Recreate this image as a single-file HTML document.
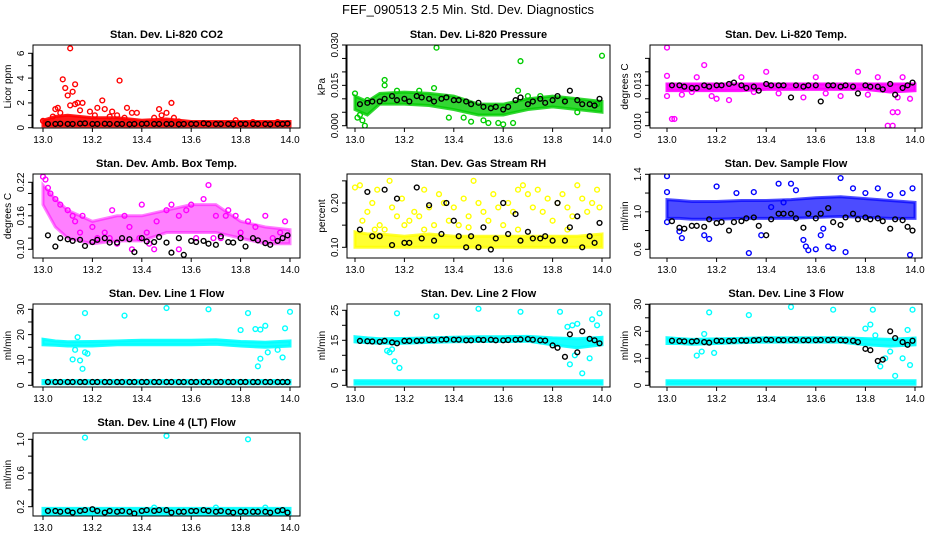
<!DOCTYPE html>
<html><head><meta charset="utf-8"><style>
body{margin:0;background:#fff;}
svg{display:block;font-family:"Liberation Sans",Arial,sans-serif;}
</style></head><body>
<svg id="chart" width="936" height="540" viewBox="0 0 936 540" xmlns="http://www.w3.org/2000/svg">
<text x="468" y="14" text-anchor="middle" font-size="13">FEF_090513  2.5 Min. Std. Dev. Diagnostics</text>
</svg>
<script>
// ---------- shared data ----------
const xTicks = [13.0,13.2,13.4,13.6,13.8,14.0];
const blackX = [13.02,13.05,13.07,13.10,13.12,13.15,13.17,13.20,13.22,13.25,13.27,13.30,13.32,13.35,13.37,13.40,13.42,13.45,13.47,13.50,13.52,13.55,13.57,13.60,13.62,13.65,13.67,13.70,13.72,13.75,13.77,13.80,13.82,13.85,13.87,13.90,13.92,13.95,13.97,13.99];
const bandX = [13.0,13.05,13.1,13.2,13.3,13.4,13.5,13.6,13.7,13.8,13.9,14.0];

// CO2
const co2Black = [0.3,0.3,0.32,0.3,0.3,0.33,0.35,0.3,0.3,0.32,0.3,0.3,0.3,0.28,0.3,0.3,0.32,0.3,0.3,0.3,0.3,0.28,0.3,0.3,0.3,0.35,0.3,0.3,0.3,0.3,0.28,0.3,0.3,0.3,0.3,0.3,0.28,0.3,0.3,0.33];
const co2BandLo = [0.15,0.15,0.15,0.15,0.15,0.15,0.15,0.15,0.15,0.15,0.15,0.15];
const co2BandHi = [0.6,0.9,1.0,0.8,0.8,0.6,0.7,0.5,0.5,0.5,0.5,0.5];
const co2SX = [13.11,13.08,13.09,13.13,13.12,13.10,13.31,13.05,13.06,13.14,13.16,13.13,13.24,13.22,13.25,13.28,13.34,13.36,13.38,13.47,13.52,13.50,13.48,13.19,13.21,13.30,13.04,13.07,13.11,13.15,13.27,13.33,13.53,13.78,13.45,13.55,13.00,13.85,13.95];
const co2SY = [6.4,3.9,3.2,3.5,2.9,2.6,3.8,1.5,1.6,2.0,2.0,1.9,2.2,1.6,1.5,1.3,1.6,1.2,1.2,1.5,2.0,1.2,1.0,1.3,1.0,1.0,0.9,1.2,1.8,1.4,0.9,0.8,0.8,0.6,0.8,0.5,0.55,0.45,0.45];

// Pressure
const prBlack = [0.008,0.0085,0.009,0.009,0.010,0.011,0.0095,0.010,0.009,0.011,0.0105,0.010,0.009,0.010,0.0105,0.0095,0.0095,0.009,0.008,0.0085,0.007,0.0065,0.007,0.006,0.007,0.0095,0.0105,0.008,0.009,0.010,0.0085,0.0095,0.011,0.009,0.013,0.0095,0.008,0.008,0.0075,0.010];
const prBandLo = [0.006,0.004,0.008,0.008,0.0075,0.006,0.004,0.004,0.006,0.007,0.006,0.005];
const prBandHi = [0.011,0.009,0.012,0.0125,0.012,0.011,0.008,0.008,0.010,0.011,0.010,0.009];
const prSX = [13.33,13.67,14.0,13.12,13.12,13.32,13.26,13.04,13.03,13.02,13.0,13.66,13.64,13.60,13.58,13.54,13.47,13.38,13.44,13.70,13.85,13.98,13.01,13.05,13.17,13.52,13.75,13.90];
const prSY = [0.029,0.024,0.026,0.017,0.015,0.014,0.013,0.0,0.002,0.004,0.012,0.013,0.001,0.0005,0.001,0.001,0.0015,0.003,0.003,0.011,0.0095,0.008,0.003,0.0095,0.013,0.002,0.011,0.005];

// Li-820 Temp
const tpBlack = [0.0130,0.0130,0.0129,0.0128,0.0128,0.0130,0.0129,0.0130,0.0130,0.0131,0.0132,0.0130,0.0128,0.0129,0.0126,0.0131,0.0130,0.0130,0.0130,0.0121,0.0130,0.0129,0.0130,0.0130,0.0118,0.0130,0.0130,0.0129,0.0130,0.0129,0.0124,0.0130,0.0129,0.0129,0.0127,0.0131,0.0123,0.0128,0.0130,0.0132];
const tpBandLo = [0.0126,0.0126,0.0126,0.0126,0.0126,0.0127,0.0127,0.0127,0.0127,0.0127,0.0125,0.0126];
const tpBandHi = [0.0131,0.0131,0.0131,0.0131,0.0131,0.0131,0.0131,0.0131,0.0131,0.0131,0.0131,0.0131];
const tpSX = [13.0,13.0,13.0,13.02,13.03,13.15,13.40,13.77,13.89,13.91,13.91,13.93,13.98,13.93,13.25,13.70,13.55,13.10,13.20,13.35,13.81,13.60,13.85,13.30,13.06,13.18,13.45,13.64,13.95,13.12];
const tpSY = [0.0158,0.0137,0.0122,0.0105,0.0105,0.0145,0.0140,0.0140,0.0100,0.0100,0.0110,0.0110,0.0120,0.0121,0.0119,0.0122,0.0121,0.0125,0.0120,0.0125,0.0123,0.0136,0.0136,0.0136,0.0123,0.0122,0.0124,0.0124,0.0136,0.0136];

// Amb Box Temp
const abBlack = [0.125,0.105,0.12,0.118,0.115,0.117,0.106,0.113,0.117,0.12,0.112,0.112,0.12,0.118,0.095,0.12,0.114,0.113,0.122,0.112,0.094,0.12,0.09,0.115,0.113,0.115,0.11,0.108,0.123,0.113,0.112,0.12,0.105,0.12,0.116,0.111,0.108,0.115,0.12,0.125];
const abBandLo = [0.18,0.14,0.12,0.11,0.115,0.115,0.13,0.13,0.13,0.12,0.11,0.11];
const abBandHi = [0.215,0.19,0.17,0.15,0.16,0.16,0.17,0.18,0.18,0.15,0.14,0.135];
const abSX = [13.0,13.01,13.02,13.03,13.05,13.07,13.1,13.13,13.16,13.2,13.22,13.25,13.28,13.3,13.33,13.36,13.39,13.4,13.43,13.46,13.5,13.52,13.55,13.58,13.6,13.62,13.65,13.67,13.7,13.72,13.75,13.78,13.8,13.83,13.86,13.9,13.93,13.96,13.98,13.15,13.35,13.45,13.55,13.69,13.74,13.12,13.27,13.42];
const abSY = [0.23,0.225,0.21,0.20,0.19,0.18,0.17,0.15,0.16,0.14,0.12,0.13,0.17,0.11,0.16,0.10,0.12,0.18,0.11,0.15,0.17,0.18,0.10,0.17,0.18,0.12,0.19,0.215,0.16,0.12,0.17,0.16,0.13,0.15,0.14,0.16,0.12,0.13,0.15,0.13,0.14,0.10,0.16,0.12,0.16,0.16,0.12,0.13];

// RH
const rhBlack = [0.14,0.225,0.125,0.125,0.23,0.105,0.21,0.11,0.11,0.235,0.12,0.195,0.115,0.13,0.20,0.16,0.125,0.10,0.125,0.10,0.145,0.095,0.12,0.20,0.13,0.175,0.115,0.135,0.12,0.12,0.125,0.115,0.20,0.115,0.145,0.17,0.10,0.125,0.11,0.155];
const rhBandLo = [0.10,0.10,0.10,0.10,0.10,0.10,0.10,0.10,0.10,0.10,0.10,0.10];
const rhBandHi = [0.135,0.13,0.13,0.125,0.13,0.125,0.125,0.125,0.125,0.125,0.125,0.13];
const rhSX = [13.0,13.02,13.03,13.05,13.07,13.09,13.1,13.12,13.14,13.15,13.17,13.19,13.2,13.22,13.24,13.26,13.28,13.3,13.32,13.34,13.36,13.38,13.4,13.42,13.44,13.46,13.48,13.5,13.52,13.54,13.56,13.58,13.6,13.62,13.64,13.66,13.68,13.7,13.72,13.74,13.76,13.78,13.8,13.82,13.84,13.86,13.88,13.9,13.92,13.94,13.96,13.98,13.99,13.08,13.28,13.46,13.66,13.86];
const rhSY = [0.235,0.24,0.16,0.18,0.20,0.23,0.15,0.14,0.25,0.19,0.17,0.21,0.15,0.16,0.18,0.17,0.23,0.19,0.15,0.22,0.20,0.16,0.19,0.15,0.21,0.17,0.25,0.20,0.18,0.16,0.22,0.19,0.15,0.20,0.18,0.23,0.24,0.22,0.19,0.23,0.18,0.21,0.16,0.20,0.22,0.19,0.17,0.24,0.21,0.18,0.20,0.23,0.19,0.14,0.14,0.145,0.14,0.14];

// Sample flow
const sfBlack = [0.90,0.83,0.82,0.85,0.85,0.84,0.92,0.88,0.89,0.80,0.89,0.90,0.93,0.94,0.85,0.75,0.92,0.98,0.98,0.98,0.93,0.83,0.98,0.93,0.98,1.04,0.89,0.86,0.94,0.98,0.92,0.94,0.92,0.93,0.90,0.82,0.92,0.91,0.84,0.80];
const sfBandLo = [0.93,0.93,0.92,0.92,0.93,0.93,0.93,0.94,0.95,0.94,0.93,0.93];
const sfBandHi = [1.13,1.12,1.11,1.11,1.12,1.12,1.13,1.15,1.16,1.14,1.12,1.10];
const sfSX = [13.0,13.0,13.0,13.05,13.06,13.15,13.17,13.2,13.33,13.35,13.38,13.42,13.45,13.5,13.52,13.55,13.57,13.56,13.6,13.62,13.65,13.67,13.7,13.72,13.75,13.8,13.85,13.9,13.95,13.98,13.99,13.28,13.47,13.63];
const sfSY = [1.38,1.21,0.89,0.79,0.72,0.75,0.71,1.27,0.56,1.21,0.75,1.05,1.30,1.30,1.23,0.70,0.59,0.63,0.60,0.75,0.63,0.61,1.36,0.57,1.25,1.20,1.25,1.18,1.20,0.54,1.25,1.20,1.10,0.82];

// Line 1
const l1Black = [1.3,1.3,1.3,1.3,1.3,1.3,1.3,1.3,1.3,1.3,1.3,1.3,1.3,1.3,1.3,1.3,1.3,1.3,1.3,1.3,1.3,1.3,1.3,1.3,1.3,1.3,1.3,1.3,1.3,1.3,1.3,1.3,1.3,1.3,1.3,1.3,1.3,1.3,1.3,1.3];
const l1UpLo = [16,15.8,15.5,15.5,16,16,16,16,16.2,15.5,15,15.5];
const l1UpHi = [18.2,17.5,17.2,17.3,17.5,17.8,17.8,17.8,18,17.3,17,17.5];
const l1LoLo = [0.6,0.6,0.6,0.6,0.6,0.6,0.6,0.6,0.6,0.6,0.6,0.6];
const l1LoHi = [1.9,1.9,1.9,1.9,1.9,1.9,1.9,1.9,1.9,1.9,1.9,1.9];
const l1SX = [13.17,13.33,13.5,13.67,13.83,14.0,13.12,13.15,13.14,13.16,13.17,13.18,13.8,13.86,13.88,13.9,13.87,13.88,13.91,13.95,13.98,13.97,13.13];
const l1SY = [28.5,27.5,30.5,30,28.5,29,10.2,9.8,19,6.5,13,12.5,21.8,22.2,22,23.5,7.5,10.5,13,14,22.5,11,14];

// Line 2
const l2Black = [14.8,14.7,14.6,14.5,14.8,14.3,14.0,14.8,14.8,14.8,14.9,15.1,15.0,15.2,15.3,15.2,15.2,15.0,15.0,15.2,15.1,15.2,15.0,15.0,15.1,15.2,15.3,15.4,15.2,15.0,14.9,13.3,12.5,9.5,17.0,11.0,18.0,15.5,15.0,14.0];
const l2UpLo = [14.5,14.2,14.0,14.0,14.3,14.5,14.6,14.6,14.7,13.5,12.5,13.5];
const l2UpHi = [16.2,15.8,15.5,15.6,15.8,16.0,16.2,16.2,16.3,15.8,15.5,16.0];
const l2LoLo = [0.4,0.4,0.4,0.4,0.4,0.4,0.4,0.4,0.4,0.4,0.4,0.4];
const l2LoHi = [1.5,1.5,1.5,1.5,1.5,1.5,1.5,1.5,1.5,1.5,1.5,1.5];
const l2SX = [13.17,13.33,13.5,13.67,13.83,13.99,13.13,13.14,13.15,13.16,13.18,13.86,13.88,13.9,13.92,13.95,13.96,13.98,13.87,13.89];
const l2SY = [24,23,25.5,24.5,24.5,24,11.5,11,12,8,5.8,19.5,20,20.5,4,9,22,20,7,10];

// Line 3
const l3Black = [16.5,16.4,16.3,16.2,16.4,16.0,15.8,16.5,16.4,16.4,16.5,16.6,16.5,16.7,16.8,16.9,16.8,16.8,16.7,16.8,16.8,16.7,16.7,16.7,16.8,16.8,16.9,16.7,16.6,16.5,16.0,13.5,13.0,9.0,9.5,20.0,17.5,16.0,15.0,16.5];
const l3UpLo = [15.5,15.5,15.2,15.5,15.8,16.0,16.0,16.0,16.0,15.0,14.5,15.0];
const l3UpHi = [17.6,17.3,17.0,17.2,17.4,17.6,17.6,17.6,17.6,17.3,17.0,17.5];
const l3LoLo = [0.4,0.4,0.4,0.4,0.4,0.4,0.4,0.4,0.4,0.4,0.4,0.4];
const l3LoHi = [1.7,1.7,1.7,1.7,1.7,1.7,1.7,1.7,1.7,1.7,1.7,1.7];
const l3SX = [13.17,13.33,13.5,13.67,13.83,13.99,13.12,13.14,13.15,13.19,13.8,13.84,13.86,13.88,13.9,13.92,13.95,13.97,13.98,13.82];
const l3SY = [27,26,29,28,28,28,11,12.5,19,12,21,18.5,7,10,12.5,3.5,10,20.5,7.5,22.5];

// Line 4
const l4Black = [0.15,0.15,0.14,0.15,0.13,0.15,0.16,0.17,0.15,0.13,0.15,0.14,0.15,0.14,0.12,0.15,0.16,0.15,0.16,0.16,0.13,0.14,0.14,0.15,0.15,0.16,0.15,0.14,0.15,0.14,0.13,0.14,0.14,0.14,0.14,0.14,0.13,0.15,0.16,0.13];
const l4BandLo = [0.11,0.11,0.11,0.11,0.11,0.11,0.11,0.11,0.11,0.11,0.11,0.11];
const l4BandHi = [0.18,0.18,0.18,0.18,0.18,0.18,0.18,0.18,0.18,0.18,0.18,0.18];
const l4SX = [13.17,13.5,13.83,13.45,13.7,13.9];
const l4SY = [1.02,1.04,1.0,0.19,0.19,0.19];

// ---------- drawing ----------
const NS = 'http://www.w3.org/2000/svg';
const svg = document.getElementById('chart');
const cols = [{l:33,r:300,x0:43,x1:290},{l:347,r:610,x0:355,x1:602},{l:650,r:922,x0:667,x1:915}];
const rows = [{t:45,b:128},{t:174,b:258},{t:304,b:387},{t:433,b:516}];

function mk(tag, attrs, parent){
  const e = document.createElementNS(NS, tag);
  for (const k in attrs) e.setAttribute(k, attrs[k]);
  (parent||svg).appendChild(e);
  return e;
}

function panel(p){
  const c = cols[p.col], r = rows[p.row];
  const g = mk('g', {});
  
  
  const xs = v => c.x0 + (v - 13) * (c.x1 - c.x0);
  const ys = v => p.py0 + (v - p.v0) * (p.py1 - p.py0) / (p.v1 - p.v0);
  const cx = (c.l + c.r) / 2;
  const t = mk('text', {x:cx, y:r.t-7, 'text-anchor':'middle', 'font-size':11, 'font-weight':'bold'}, g);
  t.textContent = p.title;
  
  
  const clipId = 'clip' + p.row + p.col;
  const cp = mk('clipPath', {id:clipId}, g);
  mk('rect', {x:c.l, y:r.t, width:c.r-c.l, height:r.b-r.t}, cp);
  const pg = mk('g', {'clip-path':'url(#'+clipId+')'}, g);
  (p.bands||[]).forEach(bd => {
    let pts = bandX.map((x,i) => xs(x)+','+ys(bd.hi[i]));
    pts = pts.concat(bandX.map((x,i) => xs(x)+','+ys(bd.lo[i])).reverse());
    const pl = mk('polygon', {points:pts.join(' '), fill:p.color, 'fill-opacity':bd.op||0.9, stroke:p.color, 'stroke-width':3, 'stroke-opacity':bd.op||0.9}, pg);
    
    
  });
  p.sx.forEach((x,i) => {
    const e = mk('circle', {cx:xs(x), cy:ys(p.sy[i]), r:2.4, fill:'none', stroke:p.color, 'stroke-width':1.4}, pg);
    
    
  });
  blackX.forEach((x,i) => {
    const e = mk('circle', {cx:xs(x), cy:ys(p.black[i]), r:2.4, fill:'none', stroke:'#000', 'stroke-width':1.4}, pg);
    
    
  });
  const bx = mk('rect', {x:c.l, y:r.t, width:c.r-c.l, height:r.b-r.t, fill:'none', stroke:'#000', 'stroke-width':1}, g);
  
  
  mk('line', {x1:xs(13), x2:xs(14), y1:r.b, y2:r.b, stroke:'#000'}, g);
  xTicks.forEach(v => {
    mk('line', {x1:xs(v), x2:xs(v), y1:r.b, y2:r.b+4, stroke:'#000'}, g);
    const tl = mk('text', {x:xs(v), y:r.b+15, 'text-anchor':'middle', 'font-size':10}, g);
    tl.textContent = v.toFixed(1);
    
    
  });
  const yt0 = ys(p.yticks[0]), yt1 = ys(p.yticks[p.yticks.length-1]);
  mk('line', {x1:c.l-1, x2:c.l-1, y1:yt0, y2:yt1, stroke:'#000'}, g);
  p.yticks.forEach(v => {
    mk('line', {x1:c.l-5, x2:c.l, y1:ys(v), y2:ys(v), stroke:'#000'}, g);
  });
  p.ylabels.forEach((lab,i) => {
    const v = p.ylabelVals[i];
    const tl = mk('text', {x:0, y:0, 'text-anchor':'middle', 'font-size':10, transform:'translate('+(c.l-9)+','+ys(v)+') rotate(-90)'}, g);
    tl.textContent = lab;
    
    
  });
  const yl = mk('text', {x:0, y:0, 'text-anchor':'middle', 'font-size':10, transform:'translate('+(c.l-22)+','+((r.t+r.b)/2)+') rotate(-90)'}, g);
  yl.textContent = p.ytitle;
  
  
}

panel({name:'panel-co2', col:0,row:0,title:'Stan. Dev. Li-820 CO2',ytitle:'Licor ppm',color:'#ff0000',
  v0:0,py0:127.7,v1:6,py1:53.3,yticks:[0,1,2,3,4,5,6],ylabels:['0','2','4','6'],ylabelVals:[0,2,4,6],
  bands:[{lo:co2BandLo,hi:co2BandHi}],sx:co2SX,sy:co2SY,black:co2Black});
panel({name:'panel-pressure', col:1,row:0,title:'Stan. Dev. Li-820 Pressure',ytitle:'kPa',color:'#00cc00',
  v0:0,py0:125.7,v1:0.03,py1:45,yticks:[0,0.005,0.01,0.015,0.02,0.025,0.03],ylabels:['0.000','0.015','0.030'],ylabelVals:[0,0.015,0.03],
  bands:[{lo:prBandLo,hi:prBandHi,op:0.8}],sx:prSX,sy:prSY,black:prBlack});
panel({name:'panel-li820-temp', col:2,row:0,title:'Stan. Dev. Li-820 Temp.',ytitle:'degrees C',color:'#ff00ff',
  v0:0.010,py0:125.7,v1:0.013,py1:85.3,yticks:[0.010,0.011,0.012,0.013,0.014,0.015],ylabels:['0.010','0.013'],ylabelVals:[0.010,0.013],
  bands:[{lo:tpBandLo,hi:tpBandHi}],sx:tpSX,sy:tpSY,black:tpBlack});
panel({name:'panel-amb-box-temp', col:0,row:1,title:'Stan. Dev. Amb. Box Temp.',ytitle:'degrees C',color:'#ff00ff',
  v0:0.10,py0:249.3,v1:0.22,py1:182.3,yticks:[0.10,0.12,0.14,0.16,0.18,0.20,0.22],ylabels:['0.10','0.16','0.22'],ylabelVals:[0.10,0.16,0.22],
  bands:[{lo:abBandLo,hi:abBandHi,op:0.5}],sx:abSX,sy:abSY,black:abBlack});
panel({name:'panel-gas-stream-rh', col:1,row:1,title:'Stan. Dev. Gas Stream RH',ytitle:'percent',color:'#ffff00',
  v0:0.10,py0:247.3,v1:0.20,py1:203,yticks:[0.10,0.15,0.20,0.25],ylabels:['0.10','0.20'],ylabelVals:[0.10,0.20],
  bands:[{lo:rhBandLo,hi:rhBandHi,op:0.8}],sx:rhSX,sy:rhSY,black:rhBlack});
panel({name:'panel-sample-flow', col:2,row:1,title:'Stan. Dev. Sample Flow',ytitle:'ml/min',color:'#0000ff',
  v0:0.6,py0:249.3,v1:1.4,py1:174.3,yticks:[0.6,0.8,1.0,1.2,1.4],ylabels:['0.6','1.0','1.4'],ylabelVals:[0.6,1.0,1.4],
  bands:[{lo:sfBandLo,hi:sfBandHi,op:0.7}],sx:sfSX,sy:sfSY,black:sfBlack});
panel({name:'panel-line1-flow', col:0,row:2,title:'Stan. Dev. Line 1 Flow',ytitle:'ml/min',color:'#00ffff',
  v0:0,py0:385.3,v1:30,py1:309.3,yticks:[0,5,10,15,20,25,30],ylabels:['0','10','20','30'],ylabelVals:[0,10,20,30],
  bands:[{lo:l1UpLo,hi:l1UpHi},{lo:l1LoLo,hi:l1LoHi}],sx:l1SX,sy:l1SY,black:l1Black});
panel({name:'panel-line2-flow', col:1,row:2,title:'Stan. Dev. Line 2 Flow',ytitle:'ml/min',color:'#00ffff',
  v0:0,py0:385.3,v1:25,py1:310.3,yticks:[0,5,10,15,20,25],ylabels:['0','5','15','25'],ylabelVals:[0,5,15,25],
  bands:[{lo:l2UpLo,hi:l2UpHi},{lo:l2LoLo,hi:l2LoHi}],sx:l2SX,sy:l2SY,black:l2Black});
panel({name:'panel-line3-flow', col:2,row:2,title:'Stan. Dev. Line 3 Flow',ytitle:'ml/min',color:'#00ffff',
  v0:0,py0:385.3,v1:30,py1:304.3,yticks:[0,5,10,15,20,25,30],ylabels:['0','10','20','30'],ylabelVals:[0,10,20,30],
  bands:[{lo:l3UpLo,hi:l3UpHi},{lo:l3LoLo,hi:l3LoHi}],sx:l3SX,sy:l3SY,black:l3Black});
panel({name:'panel-line4-flow', col:0,row:3,title:'Stan. Dev. Line 4 (LT) Flow',ytitle:'ml/min',color:'#00ffff',
  v0:0.2,py0:506.7,v1:1.0,py1:439.3,yticks:[0.2,0.4,0.6,0.8,1.0],ylabels:['0.2','0.6','1.0'],ylabelVals:[0.2,0.6,1.0],
  bands:[{lo:l4BandLo,hi:l4BandHi}],sx:l4SX,sy:l4SY,black:l4Black});
</script>
</body></html>
